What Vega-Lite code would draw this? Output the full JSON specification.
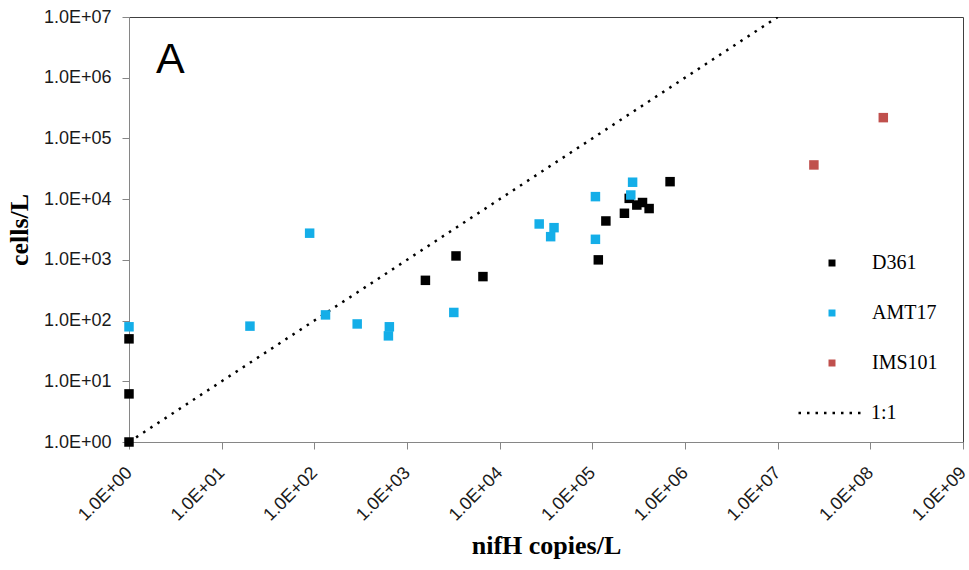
{
  "$schema": "https://vega.github.io/schema/vega-lite/v6.json",
  "width": 834,
  "height": 425,
  "autosize": {"type": "none"},
  "padding": {"left": 129, "top": 17, "right": 6, "bottom": 128},
  "background": "white",
  "config": {
    "view": {"stroke": "#404040", "strokeWidth": 1},
    "axis": {
      "grid": false,
      "domainColor": "#868686",
      "tickColor": "#868686",
      "tickSize": 7,
      "labelFont": "Liberation Sans",
      "labelFontSize": 18,
      "labelColor": "#1a1a1a",
      "titleFont": "Liberation Serif",
      "titleFontSize": 26,
      "titleFontWeight": "bold",
      "titleColor": "#000000"
    },
    "legend": {
      "labelFont": "Liberation Serif",
      "labelFontSize": 20,
      "labelColor": "#000000"
    }
  },
  "layer": [
    {
      "data": {"values": [{"series": "1:1", "x": 1, "y": 1}, {"series": "1:1", "x": 10000000, "y": 10000000}]},
      "mark": {"type": "line", "color": "#000000", "strokeWidth": 2.5, "clip": true},
      "encoding": {
        "x": {"field": "x", "type": "quantitative", "scale": {"type": "log", "domain": [1, 1000000000], "nice": false}},
        "y": {"field": "y", "type": "quantitative", "scale": {"type": "log", "domain": [1, 10000000], "nice": false}},
        "strokeDash": {
          "field": "series", "type": "nominal",
          "scale": {"domain": ["1:1"], "range": [[2.5, 6]]},
          "legend": {
            "title": null,
            "orient": "none",
            "legendX": 668,
            "legendY": 362,
            "symbolType": "stroke",
            "symbolSize": 4225,
            "symbolStrokeWidth": 2.5,
            "symbolStrokeColor": "#000000",
            "labelOffset": 6
          }
        }
      }
    },
    {
      "data": {"values": [
        {"strain": "D361", "nifH": 1, "cells": 50},
        {"strain": "D361", "nifH": 1, "cells": 6.2},
        {"strain": "D361", "nifH": 1, "cells": 1},
        {"strain": "D361", "nifH": 1580, "cells": 460},
        {"strain": "D361", "nifH": 3380, "cells": 1160},
        {"strain": "D361", "nifH": 6600, "cells": 530},
        {"strain": "D361", "nifH": 116000, "cells": 1000},
        {"strain": "D361", "nifH": 140000, "cells": 4370},
        {"strain": "D361", "nifH": 250000, "cells": 10300},
        {"strain": "D361", "nifH": 222000, "cells": 5850},
        {"strain": "D361", "nifH": 302000, "cells": 8000},
        {"strain": "D361", "nifH": 348000, "cells": 8800},
        {"strain": "D361", "nifH": 410000, "cells": 7000},
        {"strain": "D361", "nifH": 690000, "cells": 19400},
        {"strain": "AMT17", "nifH": 1, "cells": 79},
        {"strain": "AMT17", "nifH": 20.2, "cells": 81},
        {"strain": "AMT17", "nifH": 89, "cells": 2750},
        {"strain": "AMT17", "nifH": 132, "cells": 124},
        {"strain": "AMT17", "nifH": 290, "cells": 88},
        {"strain": "AMT17", "nifH": 645, "cells": 79},
        {"strain": "AMT17", "nifH": 630, "cells": 56},
        {"strain": "AMT17", "nifH": 3200, "cells": 136},
        {"strain": "AMT17", "nifH": 26700, "cells": 3900},
        {"strain": "AMT17", "nifH": 38600, "cells": 3390},
        {"strain": "AMT17", "nifH": 35500, "cells": 2410},
        {"strain": "AMT17", "nifH": 108000, "cells": 11000},
        {"strain": "AMT17", "nifH": 108000, "cells": 2180},
        {"strain": "AMT17", "nifH": 272000, "cells": 19000},
        {"strain": "AMT17", "nifH": 260000, "cells": 11700},
        {"strain": "IMS101", "nifH": 24600000, "cells": 36600},
        {"strain": "IMS101", "nifH": 138000000, "cells": 220000}
      ]},
      "mark": {"type": "point", "shape": "square", "filled": true, "size": 90, "opacity": 1},
      "encoding": {
        "x": {
          "field": "nifH", "type": "quantitative",
          "scale": {"type": "log", "domain": [1, 1000000000], "nice": false},
          "axis": {
            "title": "nifH copies/L",
            "values": [1, 10, 100, 1000, 10000, 100000, 1000000, 10000000, 100000000, 1000000000],
            "labelExpr": "'1.0E+' + (round(log(datum.value)/LN10) < 10 ? '0' : '') + round(log(datum.value)/LN10)",
            "labelAngle": -45,
            "labelAlign": "right",
            "labelBaseline": "middle",
            "labelPadding": 21,
            "titleY": 111,
            "titleBaseline": "alphabetic"
          }
        },
        "y": {
          "field": "cells", "type": "quantitative",
          "scale": {"type": "log", "domain": [1, 10000000], "nice": false},
          "axis": {
            "title": "cells/L",
            "values": [1, 10, 100, 1000, 10000, 100000, 1000000, 10000000],
            "labelExpr": "'1.0E+' + (round(log(datum.value)/LN10) < 10 ? '0' : '') + round(log(datum.value)/LN10)",
            "labelPadding": 11,
            "titleX": -102,
            "titleBaseline": "alphabetic"
          }
        },
        "color": {
          "field": "strain", "type": "nominal",
          "scale": {"domain": ["D361", "AMT17", "IMS101"], "range": ["#000000", "#14aee8", "#c0504d"]},
          "legend": {
            "title": null,
            "orient": "none",
            "legendX": 693,
            "legendY": 236,
            "symbolType": "square",
            "symbolSize": 49,
            "symbolStrokeWidth": 0,
            "labelOffset": 30,
            "rowPadding": 30
          }
        }
      }
    },
    {
      "data": {"values": [{"panel": "A"}]},
      "mark": {"type": "text", "font": "Liberation Sans", "fontSize": 43, "align": "left", "baseline": "alphabetic", "color": "#000000"},
      "encoding": {
        "text": {"field": "panel", "type": "nominal"},
        "x": {"datum": 1.955, "type": "quantitative"},
        "y": {"datum": 1200000, "type": "quantitative"}
      }
    }
  ]
}
